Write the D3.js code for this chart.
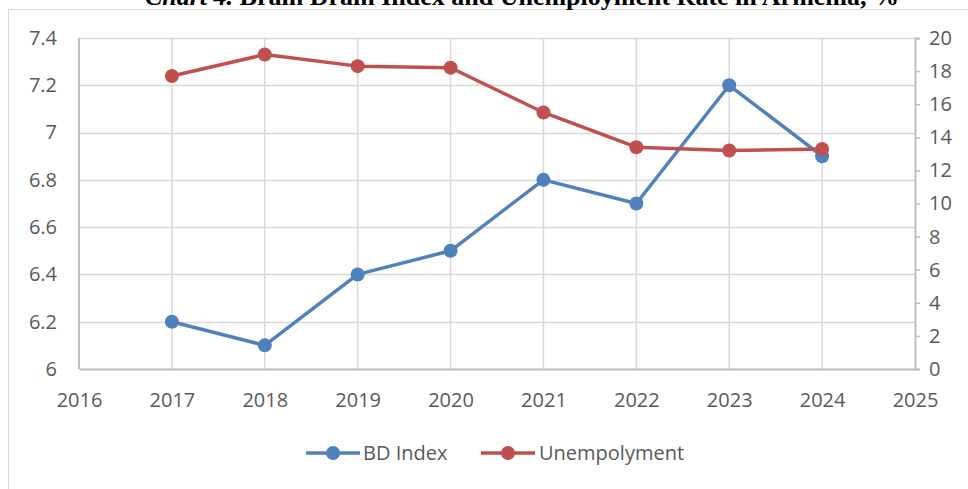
<!DOCTYPE html>
<html><head><meta charset="utf-8">
<script src="https://cdn.jsdelivr.net/npm/d3@7"></script>
<style>body{margin:0;background:#fff;}svg{display:block;}</style>
</head><body>
<svg id="c" width="968" height="489"></svg>
<script>
const years = [2017, 2018, 2019, 2020, 2021, 2022, 2023, 2024];
const bdIndex = [6.2, 6.1, 6.4, 6.5, 6.8, 6.7, 7.2, 6.9];
const unemployment = [17.7, 19.0, 18.3, 18.2, 15.5, 13.4, 13.2, 13.3];
const xTicks = [2016, 2017, 2018, 2019, 2020, 2021, 2022, 2023, 2024, 2025];
const leftTicks = [6, 6.2, 6.4, 6.6, 6.8, 7, 7.2, 7.4];
const rightTicks = [0, 2, 4, 6, 8, 10, 12, 14, 16, 18, 20];
const seriesNames = ["BD Index", "Unempolyment"];
const colors = ["#4F81BD", "#C0504D"];

const svg = d3.select("#c");
const L = 79, R = 915, T = 38, B = 369;
const x = d3.scaleLinear().domain([2016, 2025]).range([L, R]);
const yL = d3.scaleLinear().domain([6, 7.4]).range([B, T]);
const yR = d3.scaleLinear().domain([0, 20]).range([B, T]);

// chart border
svg.append("rect").attr("x", 8.5).attr("y", 9.5).attr("width", 980).attr("height", 500)
  .attr("fill", "none").attr("stroke", "#d9d9d9").attr("stroke-width", 1);

// title (partly cut off at top, as in the reference)
svg.append("text").attr("x", 522).attr("y", 5).attr("text-anchor", "middle")
  .attr("font-family", "Liberation Serif, Times New Roman, serif").attr("font-size", 26)
  .attr("font-weight", "bold").attr("fill", "#000")
  .html('<tspan font-style="italic">Chart 4.</tspan> Brain Drain Index and Unemployment Rate in Armenia, %');

// gridlines
const g = svg.append("g");
g.selectAll("line.h").data(leftTicks.slice(1)).join("line")
  .attr("x1", L).attr("x2", R).attr("y1", d => Math.round(yL(d)) + 0.5).attr("y2", d => Math.round(yL(d)) + 0.5)
  .attr("stroke", "#d9d9d9").attr("stroke-width", 1.5);
g.selectAll("line.v").data(xTicks.slice(1, -1)).join("line")
  .attr("x1", d => x(d)).attr("x2", d => x(d)).attr("y1", T).attr("y2", B)
  .attr("stroke", "#d9d9d9").attr("stroke-width", 1.5);

// axes
const axL = svg.append("g").attr("transform", `translate(${L},0)`)
  .call(d3.axisLeft(yL).tickValues(leftTicks).tickSize(0).tickPadding(22).tickFormat(d => d3.format("~g")(d)));
const axR = svg.append("g").attr("transform", `translate(${R},0)`)
  .call(d3.axisRight(yR).tickValues(rightTicks).tickSize(5).tickPadding(9).tickFormat(d3.format("d")));
const axB = svg.append("g").attr("transform", `translate(0,${B})`)
  .call(d3.axisBottom(x).tickValues(xTicks).tickSize(0).tickPadding(24).tickFormat(d3.format("d")));
[axL, axR, axB].forEach(a => {
  a.select(".domain").attr("stroke", "#bfbfbf").attr("stroke-width", 2);
  a.selectAll(".tick line").attr("stroke", "#bfbfbf").attr("stroke-width", 1.5);
  a.selectAll("text").attr("font-family", "'Open Sans', sans-serif").attr("font-size", 20).attr("fill", "#595959");
});
axL.select(".domain").remove();
svg.append("line").attr("x1", L).attr("x2", L).attr("y1", T).attr("y2", B).attr("stroke", "#bfbfbf").attr("stroke-width", 2);

// series
const data = [
  years.map((yr, i) => [x(yr), yL(bdIndex[i])]),
  years.map((yr, i) => [x(yr), yR(unemployment[i])])
];
data.forEach((pts, k) => {
  svg.append("path").attr("d", d3.line()(pts)).attr("fill", "none")
    .attr("stroke", colors[k]).attr("stroke-width", 3.5).attr("stroke-linejoin", "round");
  svg.selectAll(null).data(pts).join("circle")
    .attr("cx", d => d[0]).attr("cy", d => d[1]).attr("r", 7).attr("fill", colors[k]);
});

// legend
const leg = [{x1: 306, x2: 360, t: 363}, {x1: 481, x2: 535, t: 539}];
leg.forEach((l, k) => {
  svg.append("line").attr("x1", l.x1).attr("x2", l.x2).attr("y1", 453).attr("y2", 453)
    .attr("stroke", colors[k]).attr("stroke-width", 3.5);
  svg.append("circle").attr("cx", (l.x1 + l.x2) / 2).attr("cy", 453).attr("r", 7).attr("fill", colors[k]);
  svg.append("text").attr("x", l.t).attr("y", 460).attr("font-family", "'Open Sans', sans-serif")
    .attr("font-size", 20).attr("fill", "#595959").text(seriesNames[k]);
});
</script>
</body></html>
